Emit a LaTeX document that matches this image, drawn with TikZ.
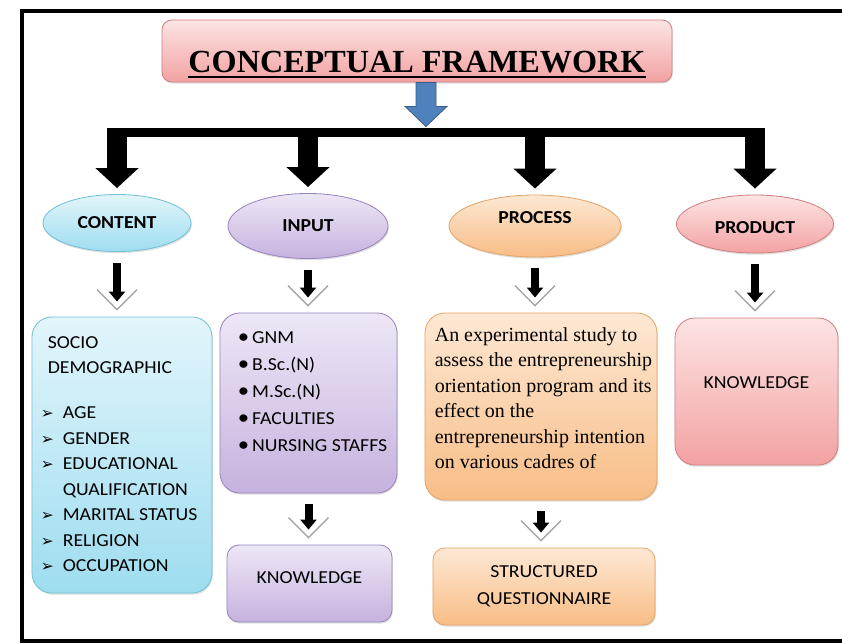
\documentclass[tikz,border=0pt]{standalone}
\usepackage{fontspec}
\setmainfont{Liberation Serif}
\newfontfamily\calfont[FakeStretch=1.08]{Carlito}
\newfontfamily\symfont{DejaVu Sans}
\usetikzlibrary{shapes.geometric,arrows.meta,calc,shadows}

\definecolor{cyanTop}{HTML}{E2F5FB}
\definecolor{cyanBot}{HTML}{9EDDF0}
\definecolor{cyanLine}{HTML}{72C2D6}
\definecolor{purpTop}{HTML}{EEE7F6}
\definecolor{purpBot}{HTML}{C6B2DE}
\definecolor{purpLine}{HTML}{9A86BE}
\definecolor{orTop}{HTML}{FDE8D4}
\definecolor{orBot}{HTML}{F8BD86}
\definecolor{orLine}{HTML}{E5A468}
\definecolor{pkTop}{HTML}{FDE4E4}
\definecolor{pkBot}{HTML}{F3A2A2}
\definecolor{pkLine}{HTML}{D08080}
\definecolor{arrBlue}{HTML}{4F81BD}
\definecolor{arrBlueLine}{HTML}{385D8A}

\newcommand{\arr}{{\symfont\fontsize{11}{11}\selectfont ➢}}
\newcommand{\dotb}{\makebox[0.36cm][l]{\fontsize{15}{15}\selectfont\textbullet}}
\newsavebox{\ulbox}
\newcommand{\thickul}[1]{\sbox{\ulbox}{#1}\rlap{\rule[-4.2pt]{\wd\ulbox}{1.4pt}}\usebox{\ulbox}}

\tikzset{
  shade/.style={drop shadow={shadow xshift=0.6pt,shadow yshift=-1.2pt,opacity=0.25}},
  cyanfill/.style={top color=cyanTop, bottom color=cyanBot, draw=cyanLine},
  purpfill/.style={top color=purpTop, bottom color=purpBot, draw=purpLine},
  orfill/.style={top color=orTop, bottom color=orBot, draw=orLine},
  pkfill/.style={top color=pkTop, bottom color=pkBot, draw=pkLine},
  titlebox/.style={pkfill, shade, rounded corners=0.25cm, line width=0.6pt, inner sep=0pt,
    minimum width=12.75cm, minimum height=1.55cm, text height=1.2cm, text depth=0.15cm,
    font=\bfseries\fontsize{22.9}{26}\selectfont},
  oval/.style={ellipse, shade, line width=0.6pt, inner sep=0pt,
    font=\calfont\bfseries\fontsize{13}{15}\selectfont},
  box/.style={shade, rounded corners=0.5cm, line width=0.6pt, inner sep=0pt},
  listfont/.style={inner sep=0pt, font=\calfont\fontsize{13}{18.1}\selectfont},
  studyfont/.style={inner sep=0pt, font=\fontsize{14.2}{18.1}\selectfont},
  bigarrow/.style={line width=0.5cm, -{Triangle[width=1.05cm,length=0.5cm]}},
  smallarrow/.style={line width=0.2cm, -{Triangle[width=0.4cm,length=0.25cm]}},
  chevron/.style={draw=black!35, line width=1pt},
  barline/.style={line width=0.225cm},
  bluearrow/.style={fill=arrBlue, draw=arrBlueLine, line width=0.6pt},
}

% chevron with black arrow, from node #1 down to node #2
\newcommand{\flow}[2]{%
  \draw[chevron] ($(#1.south |- #2.north)+(-20,-27)$) -- ($(#1.south |- #2.north)+(0,-7)$)
    -- ($(#1.south |- #2.north)+(20,-27)$);
  \draw[smallarrow] ($(#1.south)+(0,11)$) -- ($(#1.south |- #2.north)+(0,-15)$);
}

\begin{document}
\begin{tikzpicture}[x=0.025cm,y=-0.025cm]
  \useasboundingbox (0,0) rectangle (842,644);
%
  \draw[line width=0.1cm] (842,11) -- (22,11) -- (22,641) -- (842,641);
%
  \node[titlebox] (title) at (417,51) {\thickul{CONCEPTUAL FRAMEWORK}};
  \coordinate (hub) at (426,132.5);
  \draw[bluearrow] ($(title.south -| hub)+(-10,0)$) -- ++(0,24) -- ++(-11,0)
    -- ($(title.south -| hub)+(0,44)$) -- ($(title.south -| hub)+(21,24)$)
    -- ++(-11,0) -- ++(0,-24) -- cycle;
%
  \node[oval, cyanfill, minimum width=3.7cm, minimum height=1.425cm] (content) at (117,223) {CONTENT};
  \node[oval, purpfill, minimum width=4cm, minimum height=1.625cm] (input) at (308,226) {INPUT};
  \node[oval, orfill, minimum width=4.3cm, minimum height=1.55cm, text depth=0.4cm] (process) at (535,226) {PROCESS};
  \node[oval, pkfill, minimum width=3.925cm, minimum height=1.45cm, text height=0.5cm] (product) at (755,224) {PRODUCT};
%
  \draw[barline] ($(content.north |- hub)+(-10,0)$) -- ($(product.north |- hub)+(10,0)$);
  \foreach \n in {content,input,process,product}
    \draw[bigarrow] ($(\n.north |- hub)+(0,-4.5)$) -- ($(\n.north)+(0,-6)$);
%
  \node[box, cyanfill, minimum width=4.5cm, minimum height=6.9cm] (contentbox) at (122,455) {};
  \node[box, purpfill, minimum width=4.425cm, minimum height=4.5cm] (inputbox) at (308.5,403) {};
  \node[box, purpfill, rounded corners=0.3cm, minimum width=4.125cm, minimum height=1.925cm] (inputknow) at (309.5,583.5) {};
  \node[box, orfill, minimum width=5.8cm, minimum height=4.675cm] (processbox) at (541,406.5) {};
  \node[box, orfill, rounded corners=0.3cm, minimum width=5.55cm, minimum height=1.925cm] (tool) at (544,586.5) {};
  \node[box, pkfill, minimum width=4.075cm, minimum height=3.675cm] (productbox) at (756.5,391.5) {};
%
  \flow{content}{contentbox}
  \flow{input}{inputbox}
  \flow{process}{processbox}
  \flow{product}{productbox}
  \flow{inputbox}{inputknow}
  \flow{processbox}{tool}
%
  \node[listfont, anchor=west] (socio) at ($(contentbox.west)+(9,0)$) {%
    \begin{tabular}{@{}p{0.55cm}@{}l@{}}
      \multicolumn{2}{@{\hspace{0.175cm}}l@{}}{SOCIO}\\
      \multicolumn{2}{@{\hspace{0.175cm}}l@{}}{DEMOGRAPHIC}\\[0.49cm]
      \arr & AGE\\
      \arr & GENDER\\
      \arr & EDUCATIONAL\\
           & QUALIFICATION\\
      \arr & MARITAL STATUS\\
      \arr & RELIGION\\
      \arr & OCCUPATION
    \end{tabular}};
  \node[listfont, font=\calfont\fontsize{13}{19.2}\selectfont, anchor=east] (cadres) at ($(inputbox.east)+(-10,-11)$) {%
    \begin{tabular}{@{}l@{}}
      \dotb GNM\\
      \dotb B.Sc.(N)\\
      \dotb M.Sc.(N)\\
      \dotb FACULTIES\\
      \dotb NURSING STAFFS
    \end{tabular}};
  \node[studyfont, anchor=west, align=left] (study) at ($(processbox.west)+(10,-8.5)$)
    {An experimental study to\\assess the entrepreneurship\\orientation program and its\\effect on the\\entrepreneurship intention\\on various cadres of};
  \node[listfont, font=\calfont\fontsize{13}{19.2}\selectfont, align=center] (tooltext) at (tool) {STRUCTURED\\QUESTIONNAIRE};
  \node[listfont] (know1) at ($(inputknow)+(0,-5.5)$) {KNOWLEDGE};
  \node[listfont] (know2) at ($(productbox)+(0,-8.5)$) {KNOWLEDGE};
\end{tikzpicture}
\end{document}
